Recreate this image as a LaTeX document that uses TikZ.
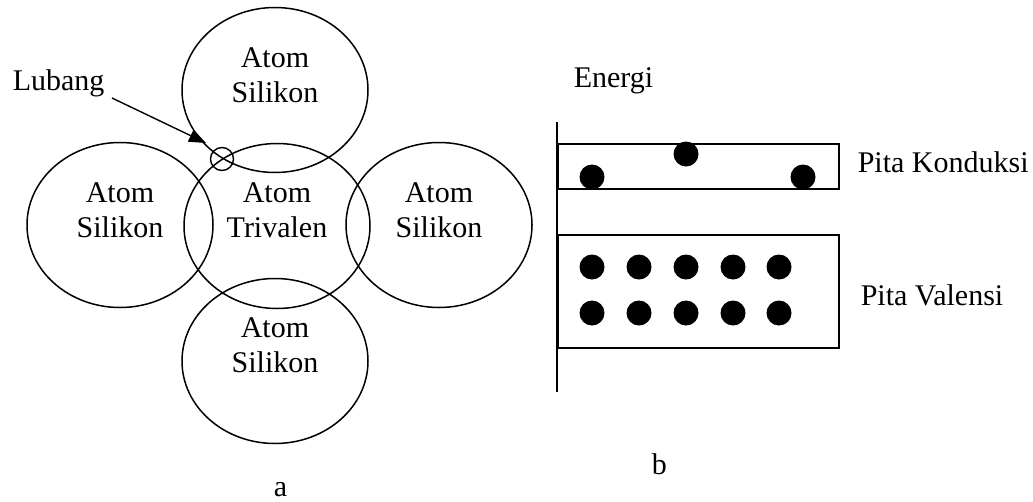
\documentclass[tikz,border=0pt]{standalone}
\usepackage{fontspec}
\setmainfont{Liberation Serif}
\usetikzlibrary{shapes.geometric,arrows.meta}
\begin{document}
\begin{tikzpicture}[x=1pt,y=-1pt,
  line width=1.5pt,
  font=\fontsize{30}{35}\selectfont,
  atom/.style={draw,ellipse,inner sep=0pt,minimum width=186pt,minimum height=165pt},
  lbl/.style={inner sep=0pt,align=center},
  txt/.style={inner sep=0pt,anchor=base west},
  dot/.style={fill=black,draw=none,circle,inner sep=0pt,minimum size=25pt},
  band/.style={draw,line width=1.5pt},
  ptr/.style={-{Triangle[length=17pt,width=13pt]},line width=1.4pt}]
\useasboundingbox (0,0) rectangle (1033,501);
% atoms
\node[atom] (top) at (275,90) {};
\node[atom] (left) at (120,225) {};
\node[atom] (mid) at (277,226) {};
\node[atom] (right) at (439,225) {};
\node[atom] (bot) at (275,361) {};
\node[lbl] (ttop) at (275,75) {Atom\\Silikon};
\node[lbl] (tleft) at (120,210) {Atom\\Silikon};
\node[lbl] (tmid) at (277,210) {Atom\\Trivalen};
\node[lbl] (tright) at (439,210) {Atom\\Silikon};
\node[lbl] (tbot) at (275,345) {Atom\\Silikon};
% hole
\node[draw,circle,inner sep=0pt,minimum size=23pt,line width=1.4pt] (hole) at (222,159) {};
\node[txt] (lubang) at (12,90) {Lubang};
\coordinate (ls) at (112,98);
\coordinate (tip) at (206,143);
\draw[ptr] (ls) -- (tip);
\node[txt] (la) at (273,496) {a};
% band diagram
\coordinate (axtop) at (557,122);
\coordinate (axbot) at (557,392);
\draw (axtop) -- (axbot);
\node[band,minimum width=281pt,minimum height=45pt,inner sep=0pt,anchor=north west] (cb) at (557,143) {};
\node[band,minimum width=281pt,minimum height=113pt,inner sep=0pt,anchor=north west] (vb) at (557,234) {};
\node[dot] (c1) at (592,177) {};
\node[dot] (c2) at (686,154) {};
\node[dot] (c3) at (803,177) {};
\foreach \i/\x in {1/592,2/639,3/686,4/733,5/779}{
  \node[dot] (v1\i) at (\x,267) {};
  \node[dot] (v2\i) at (\x,313) {};
}
\node[txt] (energi) at (573,87) {Energi};
\node[txt] (pk) at (857,172) {Pita Konduksi};
\node[txt] (pv) at (860,305) {Pita Valensi};
\node[txt] (lb) at (651,474) {b};
\end{tikzpicture}
\end{document}
